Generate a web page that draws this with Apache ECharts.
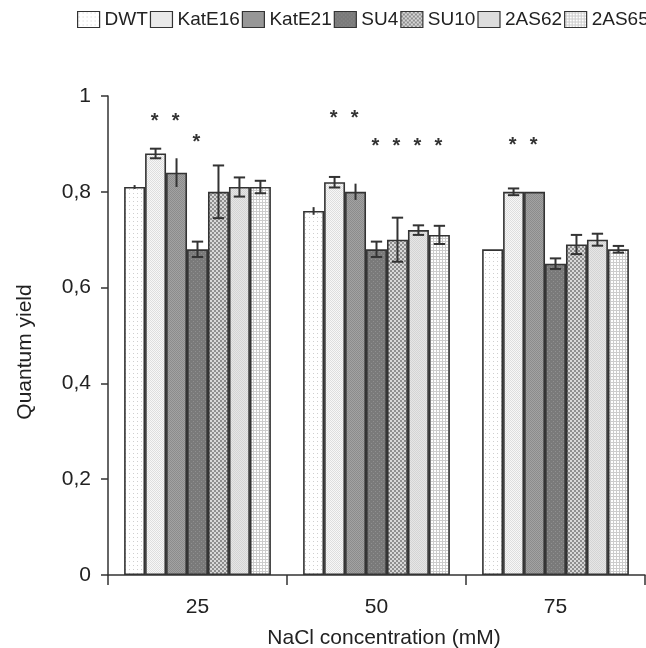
<!DOCTYPE html>
<html lang="en">
<head>
    <meta charset="UTF-8">
    <title>Quantum yield</title>
    <script src="https://cdn.jsdelivr.net/npm/echarts@6/dist/echarts.min.js"></script>
    <style>
        html, body { margin: 0; padding: 0; background: #fff; }
        #chart1 { width: 646px; height: 648px; }
    </style>
</head>
<body>
<div id="chart1"></div>
<script type="text/javascript">
    // data
    var categories = ['25', '50', '75'];
    var seriesNames = ['DWT', 'KatE16', 'KatE21', 'SU4', 'SU10', '2AS62', '2AS65'];
    var dwt    = [0.81, 0.76, 0.68];
    var katE16 = [0.88, 0.82, 0.80];
    var katE21 = [0.84, 0.80, 0.80];
    var su4    = [0.68, 0.68, 0.65];
    var su10   = [0.80, 0.70, 0.69];
    var as62   = [0.81, 0.72, 0.70];
    var as65   = [0.81, 0.71, 0.68];
    // error bar half lengths
    var dwtErr    = [0.004, 0.008, 0];
    var katE16Err = [0.01, 0.011, 0.007];
    var katE21Err = [0.03, 0.017, 0];
    var su4Err    = [0.016, 0.016, 0.011];
    var su10Err   = [0.055, 0.046, 0.02];
    var as62Err   = [0.02, 0.01, 0.0125];
    var as65Err   = [0.013, 0.019, 0.007];
    var hasCaps = [false, true, false, true, true, true, true];
    // significance stars: [category, series, y]
    var stars = [
        [0, 1, 0.96], [0, 2, 0.96], [0, 3, 0.915],
        [1, 1, 0.965], [1, 2, 0.965], [1, 3, 0.908], [1, 4, 0.908], [1, 5, 0.908], [1, 6, 0.908],
        [2, 1, 0.91], [2, 2, 0.91]
    ];
    var yTicks = [0, 0.2, 0.4, 0.6, 0.8, 1];

    var values = [dwt, katE16, katE21, su4, su10, as62, as65];
    var errors = [dwtErr, katE16Err, katE21Err, su4Err, su10Err, as62Err, as65Err];

    var FONT = "'Liberation Sans', Arial, sans-serif";
    var GAP = 0.18;

    // small fill textures like the print version
    function pattern(size, bg, fg, cells) {
        var c = document.createElement('canvas');
        c.width = c.height = size;
        var ctx = c.getContext('2d');
        ctx.fillStyle = bg;
        ctx.fillRect(0, 0, size, size);
        ctx.fillStyle = fg;
        cells.forEach(function (p) { ctx.fillRect(p[0], p[1], p[2] || 1, p[3] || 1); });
        return {image: c, repeat: 'repeat'};
    }
    var fills = [
        pattern(4, '#ffffff', '#cfcfcf', [[1, 1]]),
        pattern(2, '#f7f7f7', '#dedede', [[0, 0], [1, 1]]),
        pattern(2, '#a2a2a2', '#8c8c8c', [[0, 0], [1, 1]]),
        pattern(4, '#7a7a7a', '#909090', [[1, 1], [3, 3]]),
        pattern(4, '#d8d8d8', '#8e8e8e', [[0, 0, 2, 2], [2, 2, 2, 2]]),
        pattern(2, '#e6e6e6', '#d4d4d4', [[0, 0], [1, 1]]),
        pattern(3, '#ffffff', '#cccccc', [[0, 1, 3, 1], [1, 0, 1, 3]])
    ];

    var chart1 = echarts.init(document.getElementById('chart1'));

    var series = [];
    seriesNames.forEach(function (name, i) {
        series.push({
            name: name,
            type: 'bar',
            data: values[i],
            barGap: 0,
            barCategoryGap: (GAP * 100) + '%',
            itemStyle: {color: fills[i], borderColor: '#333', borderWidth: 1.6},
            emphasis: {disabled: true}
        });
    });
    seriesNames.forEach(function (name, i) {
        series.push({
            type: 'custom',
            name: name + ' err',
            data: values[i].map(function (v, k) { return [k, v, errors[i][k]]; }),
            z: 5,
            renderItem: function (params, api) {
                var k = api.value(0), v = api.value(1), e = api.value(2);
                if (!e) return;
                var bw = api.size([1, 0])[0] * (1 - GAP) / seriesNames.length;
                var x = api.coord([k, v])[0] + (i - 3) * bw;
                var y1 = api.coord([k, v + e])[1], y2 = api.coord([k, v - e])[1];
                var st = {stroke: '#333', lineWidth: 2};
                var kids = [{type: 'line', shape: {x1: x, y1: y1, x2: x, y2: y2}, style: st}];
                if (hasCaps[i]) {
                    var hw = bw * 0.27;
                    kids.push({type: 'line', shape: {x1: x - hw, y1: y1, x2: x + hw, y2: y1}, style: st});
                    kids.push({type: 'line', shape: {x1: x - hw, y1: y2, x2: x + hw, y2: y2}, style: st});
                }
                return {type: 'group', children: kids};
            }
        });
    });
    series.push({
        type: 'custom',
        name: 'stars',
        data: stars,
        z: 5,
        renderItem: function (params, api) {
            var k = api.value(0), s = api.value(1), y = api.value(2);
            var bw = api.size([1, 0])[0] * (1 - GAP) / seriesNames.length;
            var p = api.coord([k, y]);
            return {
                type: 'text',
                style: {
                    x: p[0] + (s - 3) * bw - 1, y: p[1] + 6, text: '*',
                    align: 'center', verticalAlign: 'middle',
                    font: 'bold 20px ' + FONT, fill: '#333'
                }
            };
        }
    });

    chart1.setOption({
        animation: false,
        legend: {
            data: seriesNames,
            left: 72,
            top: 5,
            width: 620,
            itemWidth: 22,
            itemHeight: 16,
            itemGap: 2,
            icon: 'rect',
            selectedMode: false,
            itemStyle: {borderColor: '#333', borderWidth: 1.2},
            textStyle: {fontFamily: FONT, fontSize: 19, color: '#222'}
        },
        grid: {left: 108, right: 1, top: 96, bottom: 73},
        xAxis: {
            type: 'category',
            data: categories,
            axisLine: {lineStyle: {color: '#333', width: 1.5}},
            axisTick: {show: true, length: 10, lineStyle: {color: '#333', width: 1.5}},
            axisLabel: {fontFamily: FONT, fontSize: 21, color: '#222', margin: 22}
        },
        yAxis: {
            type: 'value',
            min: 0,
            max: 1,
            interval: 0.2,
            splitLine: {show: false},
            axisLine: {show: true, lineStyle: {color: '#333', width: 1.5}},
            axisTick: {show: true, length: 7, lineStyle: {color: '#333', width: 1.5}},
            axisLabel: {
                fontFamily: FONT, fontSize: 21, color: '#222', margin: 17,
                formatter: function (v) {
                    var t = yTicks.filter(function (y) { return Math.abs(y - v) < 1e-9; })[0];
                    return String(t === undefined ? v : t).replace('.', ',');
                }
            }
        },
        graphic: [
            {type: 'text', x: 384, y: 638,
                style: {text: 'NaCl concentration (mM)', font: '21px ' + FONT, fill: '#222', align: 'center', verticalAlign: 'middle'}},
            {type: 'text', x: 25, y: 352, rotation: Math.PI / 2,
                style: {text: 'Quantum yield', font: '21px ' + FONT, fill: '#222', align: 'center', verticalAlign: 'middle'}}
        ],
        series: series
    });
</script>
</body>
</html>
